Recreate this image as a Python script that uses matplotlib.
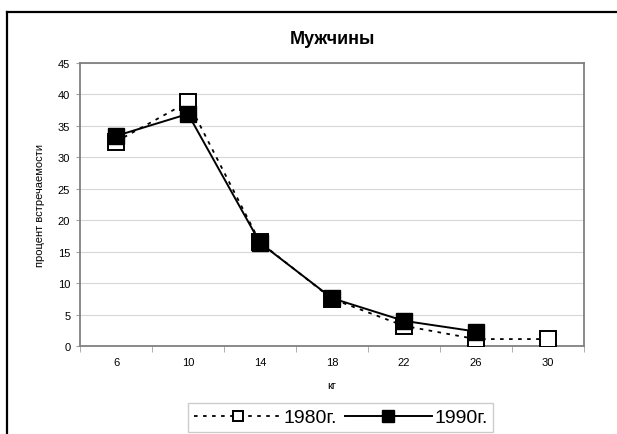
import matplotlib
matplotlib.use("Agg")
import matplotlib.pyplot as plt
from matplotlib.lines import Line2D
import numpy as np

plt.rcParams['font.family'] = ['Liberation Sans', 'DejaVu Sans']

categories = ["6", "10", "14", "18", "22", "26", "30"]
values_1980 = [32.5, 38.8, 16.5, 7.5, 3.2, 1.1, 1.1]
values_1990 = [33.4, 36.9, 16.4, 7.6, 4.0, 2.3, np.nan]
yticks = [0, 5, 10, 15, 20, 25, 30, 35, 40, 45]

W, H = 617, 435
fig = plt.figure(figsize=(W / 100, H / 100), dpi=100)
fig.patch.set_facecolor('white')

ax = fig.add_axes([80 / W, (H - 347) / H, (584 - 80) / W, 283 / H])
x = np.arange(len(categories))

ax.plot(x, values_1980, linestyle=(0, (2, 3)), color='black', lw=1.3,
        marker='s', markersize=11, markerfacecolor='white',
        markeredgecolor='black', markeredgewidth=1.4, label='1980г.', zorder=3)
ax.plot(x, values_1990, linestyle='-', color='black', lw=1.4,
        marker='s', markersize=11.5, markerfacecolor='black',
        markeredgecolor='black', label='1990г.', zorder=4)

ax.set_xlim(-0.5, len(categories) - 0.5)
ax.set_ylim(0, 45)
ax.set_yticks(yticks)
ax.set_xticks(x)
ax.set_xticklabels(categories)
ax.set_xticks(np.arange(-0.5, len(categories), 1), minor=True)
ax.tick_params(axis='x', which='major', length=0, pad=8, labelsize=8)
ax.tick_params(axis='x', which='minor', length=4, color='#a0a0a0', direction='out')
ax.tick_params(axis='y', length=3, color='#a0a0a0', direction='out', labelsize=8, pad=4)
ax.yaxis.grid(True, color='#d8d8d8', lw=0.8)
ax.set_axisbelow(True)
for s in ax.spines.values():
    s.set_color('#808080')
    s.set_linewidth(1.3)

ax.set_xlabel('кг', fontsize=8, labelpad=9)
ax.set_ylabel('процент встречаемости', fontsize=8, labelpad=9)
fig.text(0.5 * (80 + 584) / W, 1 - 40 / H, 'Мужчины', ha='center', va='center',
         fontsize=13, fontweight='bold')

leg = fig.legend(loc='upper left', bbox_to_anchor=(188 / W, 1 - 404 / H),
                 frameon=True, fancybox=False, fontsize=14, handlelength=4.5,
                 markerscale=0.7, ncol=2, columnspacing=0.4, handletextpad=0.1,
                 borderpad=0.3, borderaxespad=0)
leg.get_frame().set_edgecolor('#c0c0c0')
leg.get_frame().set_linewidth(1.0)

# outer chart frame (top and left visible)
fig.add_artist(Line2D([7 / W, 1.0], [1 - 13 / H, 1 - 13 / H], color='black', lw=1.6,
                      transform=fig.transFigure))
fig.add_artist(Line2D([7 / W, 7 / W], [0, 1 - 13 / H], color='black', lw=1.6,
                      transform=fig.transFigure))

fig.savefig('out.png', dpi=100)
